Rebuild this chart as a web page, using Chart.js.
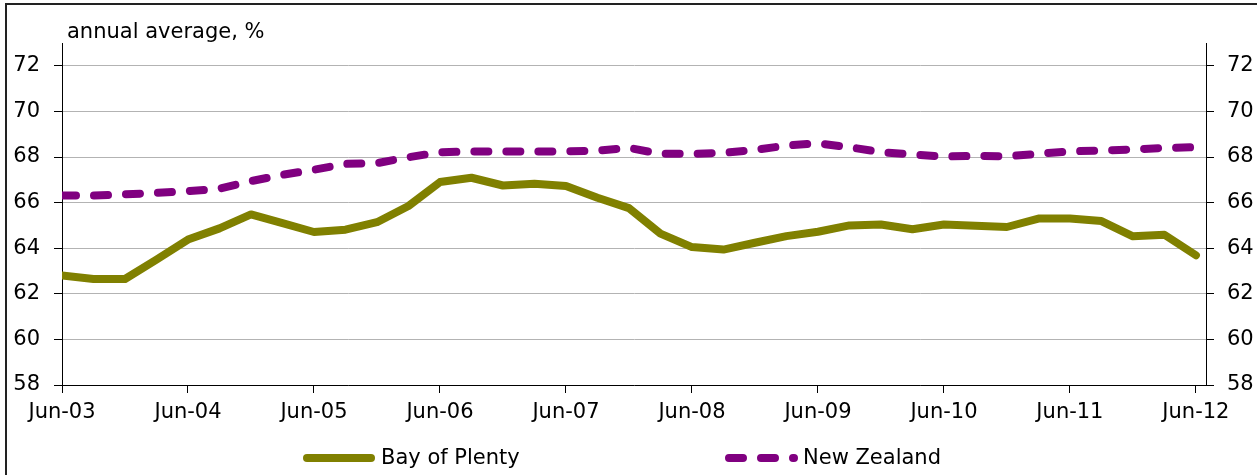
<!DOCTYPE html>
<html>
<head>
<meta charset="utf-8">
<script src="https://cdn.jsdelivr.net/npm/chart.js@4/dist/chart.umd.min.js"></script>
<style>
  html, body { margin: 0; padding: 0; background: #fff; }
  #wrap { position: relative; width: 1257px; height: 475px; }
</style>
</head>
<body>
<div id="wrap"><canvas id="c" width="1257" height="475"></canvas></div>
<script>
const categories = [
  'Jun-03','Sep-03','Dec-03','Mar-04','Jun-04','Sep-04','Dec-04','Mar-05',
  'Jun-05','Sep-05','Dec-05','Mar-06','Jun-06','Sep-06','Dec-06','Mar-07',
  'Jun-07','Sep-07','Dec-07','Mar-08','Jun-08','Sep-08','Dec-08','Mar-09',
  'Jun-09','Sep-09','Dec-09','Mar-10','Jun-10','Sep-10','Dec-10','Mar-11',
  'Jun-11','Sep-11','Dec-11','Mar-12','Jun-12'
];
const bayOfPlenty = [
  62.8, 62.65, 62.65, 63.5, 64.38, 64.87, 65.48, 65.1,
  64.71, 64.81, 65.14, 65.85, 66.9, 67.09, 66.75, 66.83,
  66.73, 66.21, 65.76, 64.64, 64.05, 63.94, 64.24, 64.53,
  64.72, 65.0, 65.04, 64.83, 65.04, 64.99, 64.93, 65.3,
  65.3, 65.19, 64.52, 64.59, 63.69
];
const newZealand = [
  66.31, 66.31, 66.36, 66.43, 66.5, 66.61, 66.94, 67.22,
  67.44, 67.7, 67.73, 67.99, 68.21, 68.24, 68.24, 68.24,
  68.25, 68.28, 68.4, 68.14, 68.14, 68.18, 68.31, 68.5,
  68.6, 68.43, 68.21, 68.11, 68.02, 68.05, 68.03, 68.14,
  68.25, 68.28, 68.33, 68.4, 68.43
];
const yTickValues = [58, 60, 62, 64, 66, 68, 70, 72];
const seriesNames = ['Bay of Plenty', 'New Zealand'];
const unitLabel = 'annual average, %';

const FONT = '"DejaVu Sans", Verdana, sans-serif';
const FS = 21;

const extras = {
  id: 'extras',
  beforeDraw(chart) {
    const ctx = chart.ctx;
    ctx.save();
    ctx.fillStyle = '#fff';
    ctx.fillRect(0, 0, chart.width, chart.height);
    ctx.strokeStyle = '#222';
    ctx.lineWidth = 2;
    ctx.beginPath();
    ctx.moveTo(6, chart.height);
    ctx.lineTo(6, 4);
    ctx.lineTo(chart.width, 4);
    ctx.stroke();
    ctx.restore();
  },
  afterDraw(chart) {
    const ctx = chart.ctx;
    const ca = chart.chartArea;
    ctx.save();
    ctx.font = FS + 'px ' + FONT;
    ctx.fillStyle = '#000';
    ctx.textBaseline = 'middle';
    ctx.textAlign = 'left';
    ctx.fillText(unitLabel, ca.left + 5, 33);
    // legend
    const ly = 458;
    const items = [
      { x0: 307, x1: 371, tx: 381 },
      { x0: 729, x1: 794, tx: 803 }
    ];
    chart.data.datasets.forEach((ds, i) => {
      const it = items[i];
      ctx.save();
      ctx.strokeStyle = ds.borderColor;
      ctx.lineWidth = ds.borderWidth;
      ctx.lineCap = 'round';
      ctx.setLineDash(ds.borderDash || []);
      ctx.beginPath();
      ctx.moveTo(it.x0, ly);
      ctx.lineTo(it.x1, ly);
      ctx.stroke();
      ctx.restore();
      ctx.fillText(ds.label, it.tx, ly + 1);
    });
    ctx.restore();
  }
};

const keepY = (scale) => {
  scale.ticks = yTickValues.map(v => ({ value: v }));
};

new Chart(document.getElementById('c'), {
  type: 'line',
  data: {
    datasets: [
      {
        label: seriesNames[0],
        data: bayOfPlenty.map((v, i) => ({ x: i, y: v })),
        borderColor: '#808000',
        borderWidth: 8,
        borderCapStyle: 'round',
        borderJoinStyle: 'round',
        pointRadius: 0,
        tension: 0,
        fill: false
      },
      {
        label: seriesNames[1],
        data: newZealand.map((v, i) => ({ x: i, y: v })),
        borderColor: '#800080',
        borderWidth: 8,
        borderDash: [14, 18],
        borderCapStyle: 'round',
        borderJoinStyle: 'round',
        pointRadius: 0,
        tension: 0,
        fill: false
      }
    ]
  },
  options: {
    responsive: false,
    animation: false,
    events: [],
    layout: { padding: { top: 43, left: 0, right: 0, bottom: 0 } },
    plugins: { legend: { display: false }, tooltip: { enabled: false } },
    scales: {
      x: {
        type: 'linear',
        min: 0,
        max: 36.32,
        afterBuildTicks: (scale) => {
          scale.ticks = categories.map((c, i) => i).filter(i => i % 4 === 0).map(v => ({ value: v }));
        },
        afterFit: (scale) => { scale.height = 90; },
        ticks: {
          autoSkip: false,
          maxRotation: 0,
          padding: 7,
          color: '#000',
          font: { family: FONT, size: FS },
          callback: (v) => categories[v]
        },
        grid: { drawOnChartArea: false, drawTicks: true, tickLength: 8, color: '#000', tickColor: '#000' },
        border: { display: true, color: '#000', width: 1 }
      },
      y: {
        position: 'left',
        min: 58,
        max: 73,
        afterBuildTicks: keepY,
        afterFit: (scale) => { scale.width = 62; },
        ticks: { padding: 14, color: '#000', font: { family: FONT, size: FS } },
        grid: { color: '#b3b3b3', lineWidth: 1, tickLength: 8, tickColor: '#000' },
        border: { display: true, color: '#000', width: 1 }
      },
      y2: {
        position: 'right',
        min: 58,
        max: 73,
        afterBuildTicks: keepY,
        afterFit: (scale) => { scale.width = 51; },
        ticks: { padding: 13, color: '#000', font: { family: FONT, size: FS } },
        grid: { drawOnChartArea: false, tickLength: 8, color: '#000', tickColor: '#000' },
        border: { display: true, color: '#000', width: 1 }
      }
    }
  },
  plugins: [extras]
});
</script>
</body>
</html>
